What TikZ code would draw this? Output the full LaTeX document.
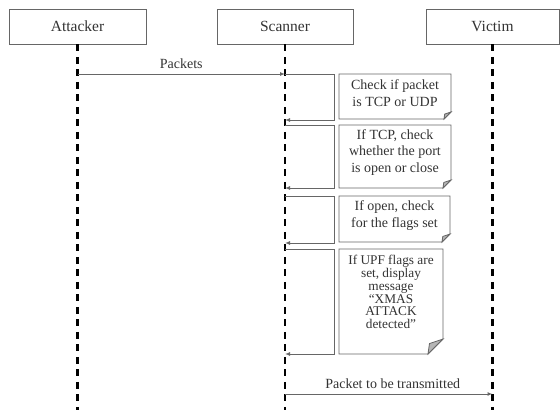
\documentclass[tikz,border=0pt]{standalone}
\usepackage{fontspec}
\setmainfont{Liberation Serif}
\usetikzlibrary{arrows.meta}
\definecolor{linegray}{HTML}{666666}
\definecolor{textgray}{HTML}{333333}
\definecolor{flapgray}{HTML}{B5B5B5}
\newcommand{\notepage}[5]{%
  \draw[notedraw] (#1,#2) -- (#3,#2) -- (#3,#4-#5) -- (#3-#5,#4) -- (#1,#4) -- cycle;
  \filldraw[notedraw,fill=flapgray] (#3,#4-#5) -- (#3-#5,#4) -- (#3-0.9*#5,#4-0.7*#5) -- cycle;
}
\begin{document}
\begin{tikzpicture}[x=1pt,y=-1pt,
    header/.style={draw=linegray,line width=0.8pt,minimum width=137pt,minimum height=35pt,inner sep=0pt,text=textgray,font=\fontsize{15.5}{18}\selectfont},
    lifeline/.style={draw=black,line width=2.2pt,dash pattern=on 7pt off 5.5pt},
    msg/.style={draw=linegray,line width=1pt,-{Latex[length=5pt,width=4pt]}},
    msglabel/.style={inner sep=0pt,text=textgray,font=\fontsize{14}{16}\selectfont},
    notedraw/.style={draw=linegray,line width=0.8pt},
    notetext/.style={inner sep=0pt,align=center,text=textgray,font=\fontsize{14}{16.8}\selectfont}]
  \useasboundingbox (0,0) rectangle (560,410);
  \node[header] (attacker) at (77.5,26.5) {Attacker};
  \node[header,minimum width=136pt] (scanner) at (285,26.5) {Scanner};
  \node[header,minimum width=133pt] (victim) at (492.5,26.5) {Victim};
  \coordinate (attackerend) at (77.5,410);
  \coordinate (scannerend) at (285,410);
  \coordinate (victimend) at (492.5,410);
  \draw[lifeline] (attacker.south) -- (attackerend);
  \draw[lifeline] (scanner.south) -- (scannerend);
  \draw[lifeline] (victim.south) -- (victimend);
  \coordinate (atk0) at (77.5,74);
  \coordinate (scn0) at (285,74);
  \draw[msg] (atk0) -- node[msglabel,above=5pt] (packets) {Packets} (scn0);
  \foreach \i/\top/\bot in {1/74/120,2/125/188,3/196/243,4/249/354}{
    \coordinate (chk\i) at (285,\top);
    \coordinate (ret\i) at (285,\bot);
    \draw[msg] (chk\i) -- ++(49,0) |- (ret\i);
  }
  \notepage{339}{74}{451}{119}{7}
  \node[notetext] (note1) at (395,93.5) {Check if packet\\is TCP or UDP};
  \notepage{339}{125}{451}{188}{8}
  \node[notetext] (note2) at (395,152.5) {If TCP, check\\whether the port\\is open or close};
  \notepage{339}{196}{450}{242}{8}
  \node[notetext] (note3) at (394.5,215.5) {If open, check\\for the flags set};
  \notepage{339}{249}{443}{354}{15}
  \node[notetext,font=\fontsize{13.3}{12.8}\selectfont] (note4) at (391,292) {If UPF flags are\\set, display\\message\\“XMAS\\ATTACK\\detected”};
  \coordinate (scn5) at (285,394);
  \coordinate (vic5) at (492.5,394);
  \draw[msg] (scn5) -- node[msglabel,above=5pt,xshift=4pt] (transmit) {Packet to be transmitted} (vic5);
\end{tikzpicture}
\end{document}
